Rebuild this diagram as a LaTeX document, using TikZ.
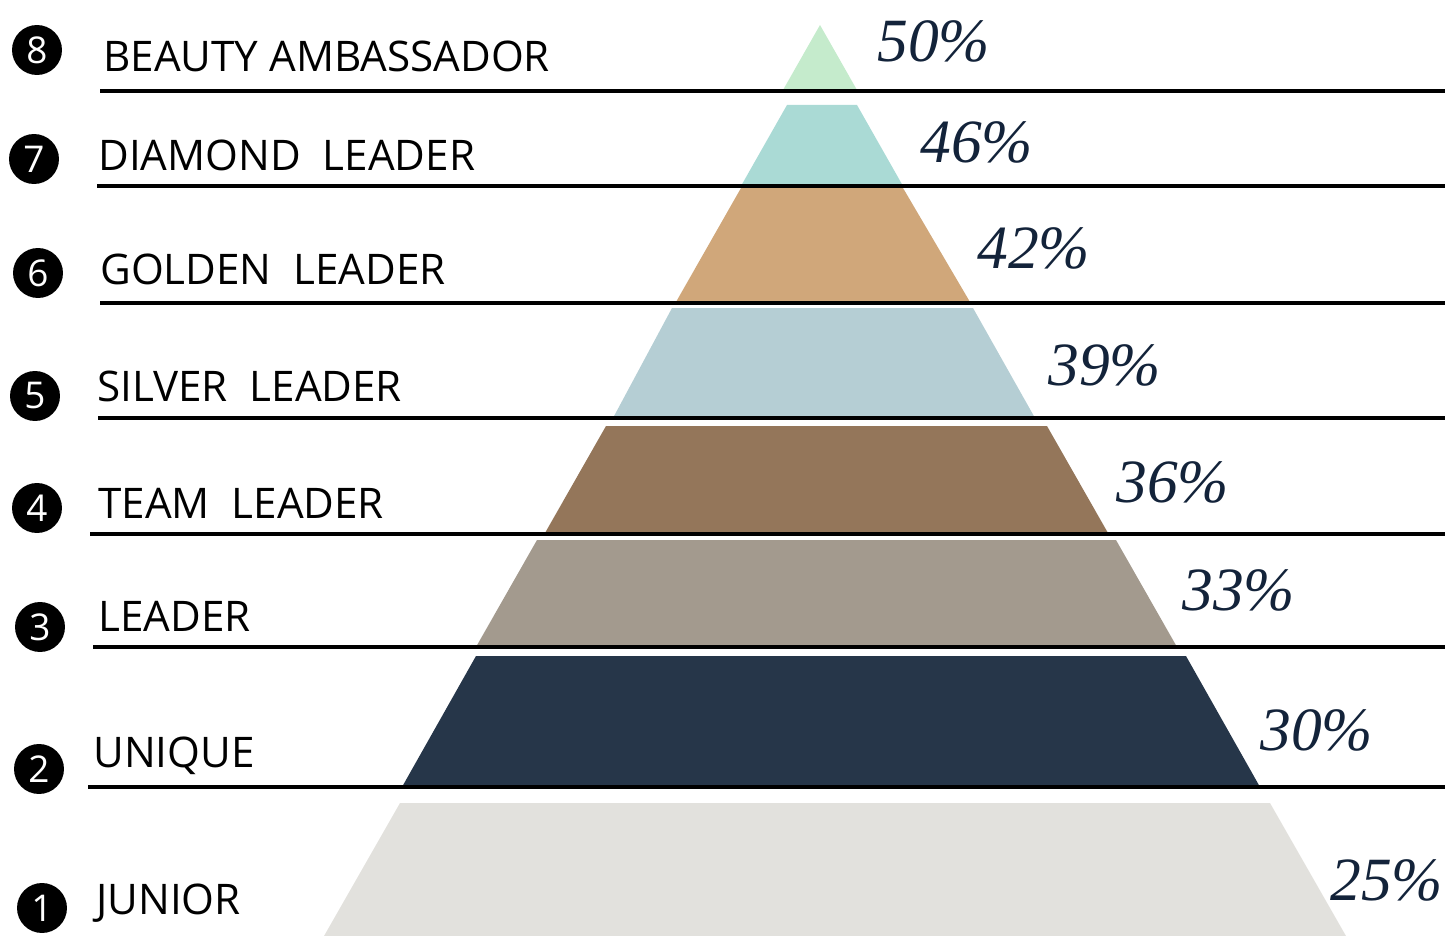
\documentclass[tikz,border=0pt]{standalone}
\usepackage{fontspec}
\setsansfont{Open Sans}
\newfontfamily\pctfont{Liberation Serif}
\definecolor{rankEight}{HTML}{C5EBCC}
\definecolor{rankSeven}{HTML}{AADAD5}
\definecolor{rankSix}{HTML}{D0A77A}
\definecolor{rankFive}{HTML}{B5CED4}
\definecolor{rankFour}{HTML}{94765A}
\definecolor{rankThree}{HTML}{A39A8E}
\definecolor{rankTwo}{HTML}{263649}
\definecolor{rankOne}{HTML}{E2E1DD}
\definecolor{pctInk}{HTML}{13233A}
\tikzset{
  rankname/.style={anchor=base west, inner sep=0pt,
    font=\sffamily\fontsize{24}{28}\selectfont},
  pct/.style={anchor=base west, inner sep=0pt, text=pctInk,
    font=\pctfont\itshape\fontsize{35}{40}\selectfont},
  badge/.style={circle, fill=black, text=white, minimum size=1cm, inner sep=0pt,
    font=\sffamily\fontsize{21}{24}\selectfont},
  rule/.style={line width=2pt}
}
\begin{document}
\begin{tikzpicture}[x=0.02cm, y=-0.02cm]
\useasboundingbox (0,0) rectangle (1445,936);
% layers of the pyramid
\foreach \yt/\yb/\tl/\tr/\bl/\br/\col in {
  25/90/820/820/783/857/rankEight,
  105/186/787/857/741/903/rankSeven,
  188/302/741/903/676/970/rankSix,
  308/418/672/973/613/1035/rankFive,
  426/533/606/1047/545/1108/rankFour,
  540/647/537/1116/476/1177/rankThree,
  656/787/476/1186/402/1260/rankTwo,
  803/936/400/1270/324/1346/rankOne}
  \fill[\col] (\tl,\yt) -- (\tr,\yt) -- (\br,\yb) -- (\bl,\yb) -- cycle;
% rules under the names
\coordinate (end8) at (1445,91);
\coordinate (end7) at (1445,186);
\coordinate (end6) at (1445,303);
\coordinate (end5) at (1445,418);
\coordinate (end4) at (1445,534);
\coordinate (end3) at (1445,647);
\coordinate (end2) at (1445,787);
\coordinate (start8) at (100,91);
\coordinate (start7) at (97,186);
\coordinate (start6) at (100,303);
\coordinate (start5) at (98,418);
\coordinate (start4) at (90,534);
\coordinate (start3) at (93,647);
\coordinate (start2) at (88,787);
\foreach \i in {2,...,8}
  \draw[rule] (start\i) -- (end\i);
% badges
\node[badge] (b8) at (37,50) {8};
\node[badge] (b7) at (34,159) {7};
\node[badge] (b6) at (38,273) {6};
\node[badge] (b5) at (35,396) {5};
\node[badge] (b4) at (37,508) {4};
\node[badge] (b3) at (40,627) {3};
\node[badge] (b2) at (39,769) {2};
\node[badge] (b1) at (42,908) {1};
% names
\node[rankname] (n8) at (103,72) {BEAUTY AMBASSADOR};
\node[rankname] (n7) at (98,171) {DIAMOND\ \ LEADER};
\node[rankname] (n6) at (100,284) {GOLDEN\ \ LEADER};
\node[rankname] (n5) at (97,401) {SILVER\ \ LEADER};
\node[rankname] (n4) at (98,518) {TEAM\ \ LEADER};
\node[rankname] (n3) at (98,631) {LEADER};
\node[rankname] (n2) at (93,767) {UNIQUE};
\node[rankname] (n1) at (96,914) {JUNIOR};
% percentages
\node[pct] (p8) at (877,62) {50\%};
\node[pct] (p7) at (920,163) {46\%};
\node[pct] (p6) at (977,269) {42\%};
\node[pct] (p5) at (1048,385) {39\%};
\node[pct] (p4) at (1116,502) {36\%};
\node[pct] (p3) at (1182,610) {33\%};
\node[pct] (p2) at (1260,750) {30\%};
\node[pct] (p1) at (1330,900) {25\%};
\end{tikzpicture}
\end{document}
